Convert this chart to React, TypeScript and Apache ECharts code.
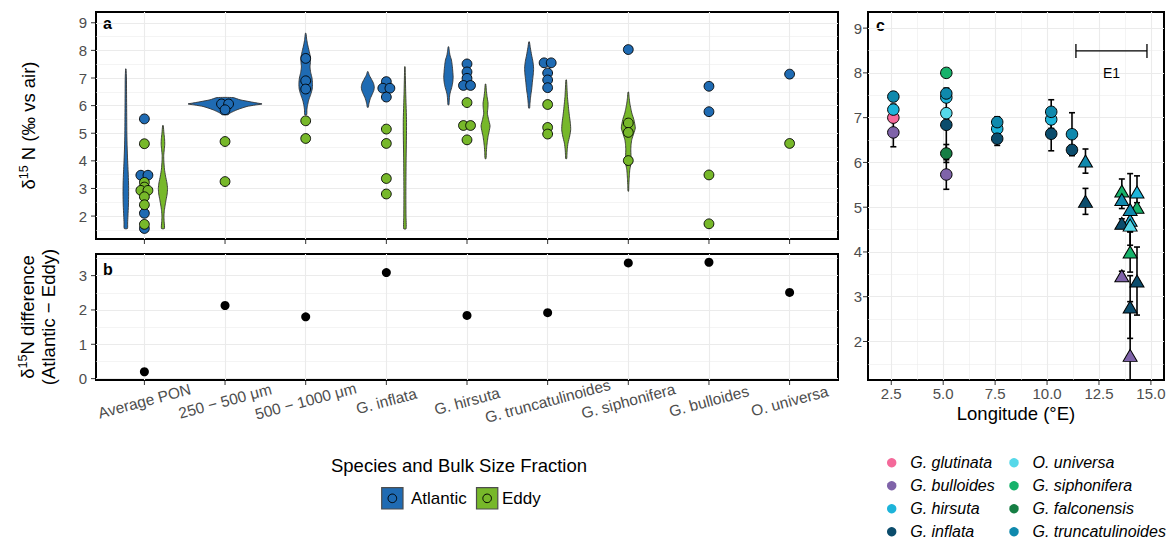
import React, { useEffect, useRef } from 'react';
import * as echarts from 'echarts';

// ---------------- Panel a / b data ----------------
const categories = [
  'Average PON',
  '250 − 500 μm',
  '500 − 1000 μm',
  'G. inflata',
  'G. hirsuta',
  'G. truncatulinoides',
  'G. siphonifera',
  'G. bulloides',
  'O. universa',
];

const atlanticValues: number[][] = [
  [5.52, 3.48, 3.48, 2.1, 1.55],
  [6.06, 6.06, 5.85],
  [7.71, 6.9, 6.6],
  [6.87, 6.63, 6.63, 6.31],
  [7.51, 7.22, 6.99, 6.73, 6.73],
  [7.55, 7.55, 7.18, 6.93, 6.65],
  [8.03],
  [6.7, 5.78],
  [7.14],
];

const eddyValues: number[][] = [
  [4.62, 3.22, 3.05, 2.93, 2.93, 2.7, 2.41, 1.7],
  [4.7, 3.25],
  [5.45, 4.81],
  [5.15, 4.63, 3.36, 2.8],
  [6.11, 5.28, 5.28, 4.76],
  [6.04, 5.21, 4.97],
  [5.37, 5.03, 4.01],
  [3.49, 1.72],
  [4.63],
];

const differenceValues = [0.2, 2.13, 1.8, 3.09, 1.84, 1.92, 3.37, 3.39, 2.51];

// violins: category, group, density profile (levels in ‰, half width read in px)
const violinCategory = [0, 0, 1, 2, 3, 3, 4, 4, 5, 5, 6];
const violinGroup = ['Atlantic', 'Eddy', 'Atlantic', 'Atlantic', 'Atlantic', 'Eddy', 'Atlantic', 'Eddy', 'Atlantic', 'Eddy', 'Eddy'];
const violinLevels: number[][] = [
  [7.33, 7.0, 6.5, 6.0, 5.5, 5.0, 4.5, 4.0, 3.6, 3.2, 2.8, 2.4, 2.0, 1.75, 1.55],
  [5.28, 5.0, 4.8, 4.6, 4.4, 4.2, 4.0, 3.7, 3.45, 3.2, 3.0, 2.8, 2.6, 2.4, 2.2, 2.0, 1.8, 1.55],
  [6.29, 6.21, 6.14, 6.1, 6.06, 6.02, 5.97, 5.85, 5.73, 5.67],
  [8.62, 8.4, 8.2, 8.0, 7.8, 7.6, 7.4, 7.2, 7.0, 6.8, 6.6, 6.4, 6.2, 6.0, 5.85, 5.67],
  [7.23, 7.1, 7.0, 6.9, 6.8, 6.67, 6.55, 6.4, 6.3, 6.2, 6.05, 5.94],
  [7.41, 7.0, 6.5, 6.0, 5.5, 5.0, 4.5, 4.0, 3.5, 3.0, 2.5, 2.0, 1.54],
  [8.13, 8.0, 7.83, 7.65, 7.45, 7.25, 7.03, 6.85, 6.69, 6.5, 6.39, 6.2, 6.03],
  [6.78, 6.55, 6.33, 6.09, 5.9, 5.73, 5.5, 5.27, 5.05, 4.88, 4.7, 4.52, 4.3, 4.08],
  [8.31, 8.1, 7.83, 7.6, 7.35, 7.15, 6.93, 6.75, 6.57, 6.4, 6.21, 6.05, 5.91],
  [6.93, 6.6, 6.33, 6.1, 5.85, 5.6, 5.35, 5.13, 4.9, 4.64, 4.4, 4.2, 4.08],
  [6.49, 6.3, 6.09, 5.9, 5.73, 5.5, 5.19, 5.0, 4.77, 4.6, 4.4, 4.2, 4.0, 3.85, 3.68, 3.5, 3.32, 3.1, 2.9],
];
const violinHalfWidths: number[][] = [
  [0.2, 0.6, 0.7, 0.8, 0.9, 1.0, 1.3, 1.8, 2.3, 2.7, 2.8, 2.6, 2.1, 1.8, 1.6],
  [0.3, 1.0, 1.6, 1.8, 1.3, 0.8, 0.9, 1.5, 2.6, 4.0, 4.6, 4.2, 3.2, 2.2, 1.4, 1.0, 1.2, 1.5],
  [8, 15, 25, 31, 37, 30, 22, 12, 5, 3],
  [0.3, 1.0, 2.0, 3.3, 4.5, 4.8, 4.3, 5.0, 6.3, 6.8, 6.5, 5.0, 3.0, 1.8, 1.2, 1.0],
  [0.3, 1.5, 3.0, 4.5, 5.8, 6.5, 6.0, 4.3, 3.0, 2.0, 1.0, 0.5],
  [0.2, 0.5, 0.8, 1.2, 1.6, 1.6, 1.4, 1.2, 1.1, 1.0, 1.0, 1.1, 1.2],
  [0.3, 0.8, 1.5, 3.0, 3.8, 4.3, 4.7, 4.3, 3.5, 2.0, 1.3, 0.8, 0.5],
  [0.3, 0.8, 1.5, 2.5, 2.3, 1.8, 3.0, 4.5, 3.5, 2.5, 1.8, 1.2, 0.8, 0.5],
  [0.3, 1.2, 2.5, 3.8, 4.5, 4.2, 3.5, 3.0, 2.5, 1.8, 1.2, 0.8, 0.5],
  [0.3, 0.8, 1.2, 1.8, 2.5, 3.3, 4.2, 4.5, 3.5, 1.8, 1.0, 0.7, 0.5],
  [0.3, 0.8, 1.5, 2.5, 3.5, 5.5, 7.0, 5.5, 3.5, 2.8, 2.5, 2.7, 3.0, 2.4, 1.5, 1.1, 0.8, 0.5, 0.3],
];

const aYRange = [1.17, 9.39];
const bYRange = [-0.04, 3.63];
const abXRange = [-0.6, 8.6];
const aTicks = [2, 3, 4, 5, 6, 7, 8, 9];
const aMinor = [1.5, 2.5, 3.5, 4.5, 5.5, 6.5, 7.5, 8.5];
const bTicks = [0, 1, 2, 3];
const bMinor = [0.5, 1.5, 2.5, 3.5];

// ---------------- Panel c data ----------------
const cSpecies = [
  'G. glutinata', 'G. bulloides', 'G. hirsuta', 'G. inflata',
  'O. universa', 'G. siphonifera', 'G. falconensis', 'G. truncatulinoides',
];
const cSpeciesColors = ['#F4699A', '#7F63A9', '#1DB4DA', '#0B4C6C', '#56D8E9', '#17B26B', '#167E44', '#0F89AD'];

const cLongitude = [
  2.6, 2.6, 2.6, 2.6,
  5.15, 5.15, 5.15, 5.15, 5.15, 5.15, 5.15,
  7.6, 7.6, 7.6,
  10.2, 10.2, 10.2,
  11.2, 11.2,
  11.85, 11.85,
  13.6, 14.33, 13.6, 14.33, 14.0, 13.6, 14.0, 14.0, 14.0, 13.6, 14.33, 14.0, 14.0,
];
const cValue = [
  7.47, 7.18, 7.0, 6.67,
  8.0, 7.45, 7.54, 7.1, 6.84, 6.2, 5.73,
  6.9, 6.75, 6.53,
  7.13, 6.96, 6.64,
  6.63, 6.28,
  6.03, 5.13,
  5.36, 5.34, 5.17, 5.0, 4.95, 4.64, 4.71, 4.6, 4.0, 3.47, 3.35, 2.77, 1.69,
];
const cError = [
  0.1, 0.12, 0.05, 0.32,
  0.08, 0.1, 0.12, 0.1, 0.55, 0.2, 0.33,
  0.12, 0.1, 0.15,
  0.27, 0.2, 0.38,
  0.48, 0.1,
  0.27, 0.29,
  0.27, 0.36, 0.2, 0.1, 0.8, 0.1, 0.2, 0.15, 0.45, 0.1, 0.76, 0.7, 1.2,
];
const cTaxon = [
  'G. truncatulinoides', 'G. hirsuta', 'G. glutinata', 'G. bulloides',
  'G. siphonifera', 'G. hirsuta', 'G. truncatulinoides', 'O. universa', 'G. inflata', 'G. falconensis', 'G. bulloides',
  'G. truncatulinoides', 'G. hirsuta', 'G. inflata',
  'G. truncatulinoides', 'G. hirsuta', 'G. inflata',
  'G. truncatulinoides', 'G. inflata',
  'G. truncatulinoides', 'G. inflata',
  'G. siphonifera', 'G. hirsuta', 'G. truncatulinoides', 'G. siphonifera', 'G. truncatulinoides', 'G. inflata',
  'G. hirsuta', 'O. universa', 'G. siphonifera', 'G. bulloides', 'G. inflata', 'G. inflata', 'G. bulloides',
];
const cMarker = [
  'circle', 'circle', 'circle', 'circle',
  'circle', 'circle', 'circle', 'circle', 'circle', 'circle', 'circle',
  'circle', 'circle', 'circle',
  'circle', 'circle', 'circle',
  'circle', 'circle',
  'triangle', 'triangle',
  'triangle', 'triangle', 'triangle', 'triangle', 'triangle', 'triangle', 'triangle', 'triangle', 'triangle',
  'triangle', 'triangle', 'triangle', 'triangle',
];
const cXRange = [1.38, 15.63];
const cYRange = [1.14, 9.36];
const cXTicks = [2.5, 5, 7.5, 10, 12.5, 15];
const cXMinor = [3.75, 6.25, 8.75, 11.25, 13.75];
const cYTicks = [2, 3, 4, 5, 6, 7, 8, 9];
const cYMinor = [1.5, 2.5, 3.5, 4.5, 5.5, 6.5, 7.5, 8.5];

const e1Start = 11.39;
const e1End = 14.81;
const e1Level = 8.49;
const e1LabelLevel = 8.0;
const e1Label = 'E1';

// ---------------- Styles ----------------
const FONT = "'Liberation Sans', Arial, Helvetica, sans-serif";
const groupColor: Record<string, string> = { Atlantic: '#1F6BB3', Eddy: '#77B82A' };
const GRID = '#EBEBEB';
const TICK_TEXT = '#4D4D4D';
const SWARM_STEP = 0.088;
const DODGE = 0.23;
const TICK_LEN = 4;

function swarm(values: number[], center: number): number[][] {
  const counts = new Map<number, number>();
  values.forEach((v) => counts.set(v, (counts.get(v) || 0) + 1));
  const seen = new Map<number, number>();
  return values.map((v) => {
    const n = counts.get(v) as number;
    const k = seen.get(v) || 0;
    seen.set(v, k + 1);
    return [center + (k - (n - 1) / 2) * SWARM_STEP, v];
  });
}

function violinOffset(i: number): number {
  const c = violinCategory[i];
  const n = violinCategory.filter((x) => x === c).length;
  if (n === 1) return 0;
  return violinGroup[i] === 'Atlantic' ? -DODGE : DODGE;
}

function txt(x: number, y: number, text: string, extra: any = {}) {
  return {
    type: 'text',
    x,
    y,
    silent: true,
    style: {
      text,
      fill: '#000',
      fontFamily: FONT,
      fontSize: 16,
      align: 'left',
      verticalAlign: 'middle',
      textAlign: 'left',
      textVerticalAlign: 'middle',
      ...extra,
    },
  };
}

function valueAxis(gridIndex: number, range: number[], labelValues: number[] | null, gridValues: number[], major: boolean, extra: any = {}) {
  return {
    type: 'value',
    gridIndex,
    min: range[0],
    max: range[1],
    axisLine: { show: false, onZero: false },
    axisTick: { show: false, customValues: gridValues },
    axisLabel: labelValues
      ? { show: true, customValues: labelValues, fontFamily: FONT, fontSize: 15, color: TICK_TEXT }
      : { show: false, customValues: gridValues },
    splitLine: { show: true, lineStyle: { color: GRID, width: major ? 1.1 : 0.55 } },
    minorTick: { show: false },
    minorSplitLine: { show: false },
    ...extra,
  };
}

// tick marks drawn outside the panel through the axes' scales
function tickSeries(xAxisIndex: number, yAxisIndex: number, xTicks: number[], yTicks: number[], xMin: number, yMin: number) {
  const data = [
    ...xTicks.map((v) => [v, yMin, 0]),
    ...yTicks.map((v) => [xMin, v, 1]),
  ];
  return {
    type: 'custom',
    xAxisIndex,
    yAxisIndex,
    silent: true,
    clip: false,
    data,
    encode: { x: 0, y: 1 },
    renderItem: (_p: any, api: any) => {
      const p = api.coord([api.value(0), api.value(1)]);
      const isY = api.value(2) === 1;
      return {
        type: 'line',
        shape: isY
          ? { x1: p[0] - TICK_LEN - 1, y1: p[1], x2: p[0] - 1, y2: p[1] }
          : { x1: p[0], y1: p[1] + 1, x2: p[0], y2: p[1] + TICK_LEN + 1 },
        style: { stroke: '#333', lineWidth: 1 },
      };
    },
    z: 1,
  };
}

function buildOption(): any {
  const catIdx = categories.map((_, i) => i);
  const nameRich = {
    n: { fontFamily: FONT, fontSize: 18.5, color: '#000', lineHeight: 21, verticalAlign: 'bottom' },
    s: { fontFamily: FONT, fontSize: 12.5, color: '#000', verticalAlign: 'top' },
  };

  const xAxis = [
    valueAxis(0, abXRange, null, catIdx, true),
    valueAxis(1, abXRange, catIdx, catIdx, true, {
      axisLabel: {
        show: true, customValues: catIdx, fontFamily: FONT, fontSize: 15.5, color: TICK_TEXT,
        rotate: 15, align: 'center', verticalAlign: 'middle', margin: 21,
        formatter: (v: number) => categories[Math.round(v)],
      },
    }),
    valueAxis(2, cXRange, cXTicks, cXTicks, true, {
      axisLabel: {
        show: true, customValues: cXTicks, fontFamily: FONT, fontSize: 15, color: TICK_TEXT, margin: 6,
        formatter: (v: number) => v.toFixed(1),
      },
      name: 'Longitude (°E)', nameLocation: 'middle', nameGap: 24, nameMoveOverlap: false,
      nameTextStyle: { fontFamily: FONT, fontSize: 18.5, color: '#000' },
    }),
    valueAxis(2, cXRange, null, cXMinor, false),
  ];

  const yAxis = [
    valueAxis(0, aYRange, aTicks, aTicks, true, {
      position: 'left',
      axisLabel: { show: true, customValues: aTicks, fontFamily: FONT, fontSize: 15, color: TICK_TEXT, margin: 9 },
      name: '{n|δ}{s|15}{n| N (‰ vs air)}', nameLocation: 'middle', nameGap: 58, nameRotate: 90, nameMoveOverlap: false,
      nameTextStyle: { fontFamily: FONT, fontSize: 18.5, color: '#000', rich: nameRich },
    }),
    valueAxis(0, aYRange, null, aMinor, false, { position: 'left' }),
    valueAxis(1, bYRange, bTicks, bTicks, true, {
      position: 'left',
      axisLabel: { show: true, customValues: bTicks, fontFamily: FONT, fontSize: 15, color: TICK_TEXT, margin: 9 },
      name: '{n|δ}{s|15}{n|N difference}\n{n|(Atlantic − Eddy)}', nameLocation: 'middle', nameGap: 38, nameRotate: 90, nameMoveOverlap: false,
      nameTextStyle: { fontFamily: FONT, fontSize: 18.5, color: '#000', rich: nameRich },
    }),
    valueAxis(1, bYRange, null, bMinor, false, { position: 'left' }),
    valueAxis(2, cYRange, cYTicks, cYTicks, true, {
      position: 'left',
      axisLabel: { show: true, customValues: cYTicks, fontFamily: FONT, fontSize: 15, color: TICK_TEXT, margin: 6 },
    }),
    valueAxis(2, cYRange, null, cYMinor, false, { position: 'left' }),
  ];

  const gridCommon = { show: true, borderColor: '#000', borderWidth: 2, containLabel: false, outerBoundsMode: 'none' };
  const grid = [
    { ...gridCommon, left: 96, top: 12, width: 742, height: 227 },
    { ...gridCommon, left: 96, top: 254, width: 742, height: 126 },
    { ...gridCommon, left: 868, top: 12, width: 296, height: 368 },
  ];

  const series: any[] = [];

  series.push(tickSeries(0, 0, catIdx, aTicks, abXRange[0], aYRange[0]));
  series.push(tickSeries(1, 2, catIdx, bTicks, abXRange[0], bYRange[0]));
  series.push(tickSeries(2, 4, cXTicks, cYTicks, cXRange[0], cYRange[0]));

  series.push({
    type: 'custom',
    name: 'violins',
    xAxisIndex: 0,
    yAxisIndex: 0,
    silent: true,
    data: violinCategory.map((c, i) => [c + violinOffset(i), i]),
    encode: { x: 0, y: 1 },
    renderItem: (_p: any, api: any) => {
      const xc = api.value(0) as number;
      const vi = api.value(1) as number;
      const ys = violinLevels[vi];
      const ws = violinHalfWidths[vi];
      const right = ys.map((y, k) => {
        const p = api.coord([xc, y]);
        return [p[0] + ws[k], p[1]];
      });
      const left = ys
        .map((y, k) => {
          const p = api.coord([xc, y]);
          return [p[0] - ws[k], p[1]];
        })
        .reverse();
      return {
        type: 'polygon',
        shape: { points: right.concat(left), smooth: 0.2 },
        style: { fill: groupColor[violinGroup[vi]], stroke: '#333', lineWidth: 0.9 },
      };
    },
    z: 2,
  });

  const pointData = (vals: number[][]) => vals.flatMap((arr, ci) => swarm(arr, ci));
  (['Atlantic', 'Eddy'] as const).forEach((g) => {
    series.push({
      type: 'scatter',
      name: g,
      xAxisIndex: 0,
      yAxisIndex: 0,
      data: pointData(g === 'Atlantic' ? atlanticValues : eddyValues),
      symbol: 'circle',
      symbolSize: 9.8,
      itemStyle: { color: groupColor[g], borderColor: '#000', borderWidth: 0.9, opacity: 1 },
      z: 3,
    });
  });

  series.push({
    type: 'scatter',
    name: 'Difference',
    xAxisIndex: 1,
    yAxisIndex: 2,
    data: differenceValues.map((v, i) => [i, v]),
    symbol: 'circle',
    symbolSize: 9,
    itemStyle: { color: '#000', opacity: 1 },
  });

  series.push({
    type: 'custom',
    name: 'errorbars',
    xAxisIndex: 2,
    yAxisIndex: 4,
    silent: true,
    clip: true,
    data: cLongitude.map((x, i) => [x, cValue[i], cError[i]]),
    encode: { x: 0, y: 1 },
    renderItem: (_p: any, api: any) => {
      const x = api.value(0);
      const y = api.value(1);
      const e = api.value(2);
      const top = api.coord([x, y + e]);
      const bot = api.coord([x, y - e]);
      const cap = 3;
      const st = { stroke: '#000', lineWidth: 1.6 };
      return {
        type: 'group',
        children: [
          { type: 'line', shape: { x1: top[0], y1: top[1], x2: bot[0], y2: bot[1] }, style: st },
          { type: 'line', shape: { x1: top[0] - cap, y1: top[1], x2: top[0] + cap, y2: top[1] }, style: st },
          { type: 'line', shape: { x1: bot[0] - cap, y1: bot[1], x2: bot[0] + cap, y2: bot[1] }, style: st },
        ],
      };
    },
    z: 2,
  });

  cSpecies.forEach((sp, si) => {
    const data: number[][] = [];
    cTaxon.forEach((t, i) => {
      if (t === sp) data.push([cLongitude[i], cValue[i], cMarker[i] === 'triangle' ? 1 : 0]);
    });
    series.push({
      type: 'scatter',
      name: sp,
      xAxisIndex: 2,
      yAxisIndex: 4,
      data,
      symbol: (v: number[]) => (v[2] ? 'triangle' : 'circle'),
      symbolSize: (v: number[]) => (v[2] ? [14, 12] : 11.5),
      itemStyle: { color: cSpeciesColors[si], borderColor: '#000', borderWidth: 1, opacity: 1 },
      z: 3,
    });
  });

  series.push({
    type: 'custom',
    name: 'E1',
    xAxisIndex: 2,
    yAxisIndex: 4,
    silent: true,
    data: [[e1Start, e1End, e1Level, e1LabelLevel]],
    renderItem: (_p: any, api: any) => {
      const a = api.coord([api.value(0), api.value(2)]);
      const b = api.coord([api.value(1), api.value(2)]);
      const t = api.coord([(api.value(0) + api.value(1)) / 2, api.value(3)]);
      const st = { stroke: '#000', lineWidth: 1.3 };
      const h = 7;
      return {
        type: 'group',
        children: [
          { type: 'line', shape: { x1: a[0], y1: a[1], x2: b[0], y2: b[1] }, style: st },
          { type: 'line', shape: { x1: a[0], y1: a[1] - h, x2: a[0], y2: a[1] + h }, style: st },
          { type: 'line', shape: { x1: b[0], y1: b[1] - h, x2: b[0], y2: b[1] + h }, style: st },
          {
            type: 'text', x: t[0], y: t[1],
            style: { text: e1Label, fill: '#000', fontFamily: FONT, fontSize: 14, align: 'center', verticalAlign: 'middle', textAlign: 'center', textVerticalAlign: 'middle' },
          },
        ],
      };
    },
    z: 4,
  });

  // ---------------- graphic: panel tags + legends ----------------
  const graphic: any[] = [
    txt(103, 23, 'a', { fontWeight: 'bold' }),
    txt(103, 269, 'b', { fontWeight: 'bold' }),
    txt(876, 25, 'c', { fontWeight: 'bold' }),
    txt(459, 465, 'Species and Bulk Size Fraction', { fontSize: 18.5, align: 'center', textAlign: 'center' }),
  ];
  const legendBoxX = [381.7, 476.5];
  const legendTextX = [411, 502];
  ['Atlantic', 'Eddy'].forEach((g, i) => {
    graphic.push({
      type: 'rect', silent: true,
      shape: { x: legendBoxX[i], y: 487.7, width: 21.3, height: 21.3 },
      style: { fill: groupColor[g], stroke: '#4D4D4D', lineWidth: 1.2 },
    });
    graphic.push({
      type: 'circle', silent: true,
      shape: { cx: legendBoxX[i] + 10.65, cy: 498.35, r: 4.3 },
      style: { fill: groupColor[g], stroke: '#000', lineWidth: 1 },
    });
    graphic.push(txt(legendTextX[i], 498.5, g, { fontSize: 17 }));
  });
  cSpecies.forEach((sp, i) => {
    const col = Math.floor(i / 4);
    const row = i % 4;
    const cx = col === 0 ? 891.7 : 1014;
    const cy = 462.7 + row * 23;
    graphic.push({
      type: 'circle', silent: true,
      shape: { cx, cy, r: 4.7 },
      style: { fill: cSpeciesColors[i] },
    });
    graphic.push(txt(cx + 18.5, cy, sp, { fontStyle: 'italic', fontSize: 16 }));
  });

  return {
    animation: false,
    backgroundColor: '#ffffff',
    textStyle: { fontFamily: FONT },
    grid,
    xAxis,
    yAxis,
    series,
    graphic,
  };
}

export default function App() {
  const ref = useRef<HTMLDivElement>(null);
  useEffect(() => {
    if (!ref.current) return;
    const chart = echarts.init(ref.current, null, { renderer: 'svg' });
    chart.setOption(buildOption());
    return () => chart.dispose();
  }, []);
  return (
    <div
      ref={ref}
      style={{ position: 'fixed', left: 0, top: 0, width: 1171, height: 543, background: '#fff' }}
    />
  );
}
